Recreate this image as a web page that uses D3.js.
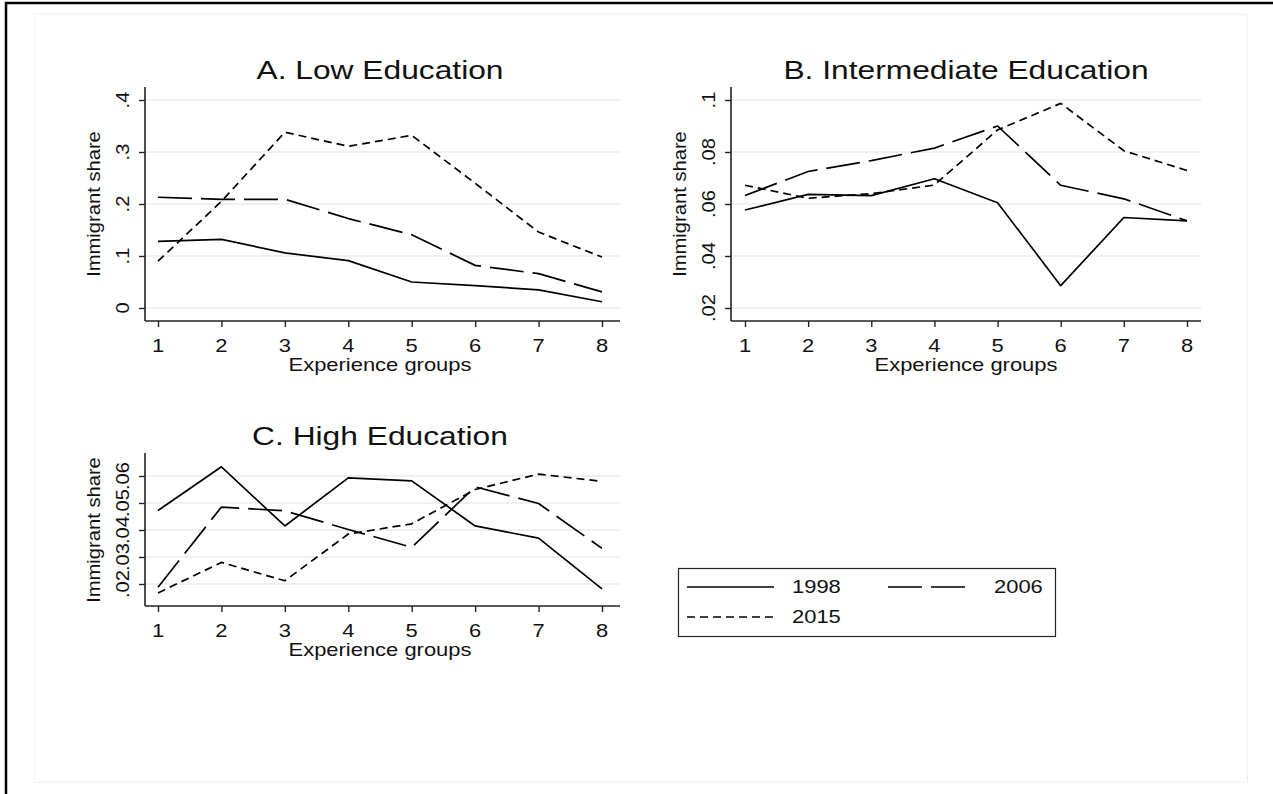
<!DOCTYPE html>
<html>
<head>
<meta charset="utf-8">
<script src="https://cdn.jsdelivr.net/npm/d3@7"></script>
<style>
  html, body { margin: 0; padding: 0; background: #fff; }
  svg { display: block; }
  text { font-family: "Liberation Sans", Arial, Helvetica, sans-serif; fill: #111; }
</style>
</head>
<body>
<svg id="chart" width="1273" height="794"></svg>
<script>
// Experience groups on the x axis
const groups = [1, 2, 3, 4, 5, 6, 7, 8];
const years = ["1998", "2006", "2015"];

// Immigrant share by experience group, low education
const low1998 = [0.128, 0.132, 0.106, 0.091, 0.050, 0.043, 0.035, 0.012];
const low2006 = [0.213, 0.209, 0.209, 0.172, 0.141, 0.082, 0.066, 0.031];
const low2015 = [0.090, 0.205, 0.338, 0.311, 0.332, 0.240, 0.146, 0.098];

// Intermediate education
const mid1998 = [0.0577, 0.0637, 0.0632, 0.0697, 0.0605, 0.0286, 0.0548, 0.0535];
const mid2006 = [0.0633, 0.0725, 0.0767, 0.0815, 0.0900, 0.0672, 0.0620, 0.0535];
const mid2015 = [0.0672, 0.0622, 0.0640, 0.0673, 0.0885, 0.0987, 0.0805, 0.0729];

// High education
const high1998 = [0.0472, 0.0634, 0.0415, 0.0593, 0.0582, 0.0415, 0.0370, 0.0182];
const high2006 = [0.0188, 0.0485, 0.0471, 0.0402, 0.0336, 0.0560, 0.0498, 0.0332];
const high2015 = [0.0167, 0.0280, 0.0212, 0.0385, 0.0423, 0.0550, 0.0607, 0.0580];

// Tick values and labels
const lowTicks = [0, 0.1, 0.2, 0.3, 0.4];
const lowTickLabels = ["0", ".1", ".2", ".3", ".4"];
const midTicks = [0.02, 0.04, 0.06, 0.08, 0.1];
const midTickLabels = [".02", ".04", ".06", ".08", ".1"];
const highTicks = [0.02, 0.03, 0.04, 0.05, 0.06];
const highTickLabels = [".02", ".03", ".04", ".05", ".06"];

const titles = ["A. Low Education", "B. Intermediate Education", "C. High Education"];
const yTitle = "Immigrant share";
const xTitle = "Experience groups";

// line style per year: solid, long dash, short dash
const dashes = { "1998": null, "2006": "34,9", "2015": "8,5" };

const svg = d3.select("#chart");

// outer frame and inner graph region
svg.append("rect").attr("x", 6).attr("y", 3).attr("width", 1400).attr("height", 900)
  .attr("fill", "#fff").attr("stroke", "#000").attr("stroke-width", 2.5);
svg.append("rect").attr("x", 34.5).attr("y", 14.5).attr("width", 1213).attr("height", 768)
  .attr("fill", "#fff").attr("stroke", "#edf1f4").attr("stroke-width", 1);

const KX = 1.22;     // horizontal glyph stretch for axis text
const KT = 1.27;     // horizontal glyph stretch for titles
const KR = 1.12;     // stretch along the reading direction of rotated text
const FS = 18;       // axis text size
const FT = 25;       // panel title size

function hText(g, x, y, s, size, k) {
  return g.append("text")
    .attr("transform", `translate(${x},${y}) scale(${k},1)`)
    .attr("text-anchor", "middle")
    .attr("font-size", size)
    .text(s);
}
function vText(g, x, y, s, size) {
  return g.append("text")
    .attr("transform", `translate(${x},${y}) rotate(-90) scale(${KR},1)`)
    .attr("text-anchor", "middle")
    .attr("dominant-baseline", "central")
    .attr("font-size", size)
    .text(s);
}

const panels = [
  { title: titles[0], series: [low1998, low2006, low2015], ticks: lowTicks, labels: lowTickLabels,
    left: 145, right: 620, top: 87, bottom: 321, x0: 158, x1: 602,
    dom: [0, 0.4], rng: [308, 100] },
  { title: titles[1], series: [mid1998, mid2006, mid2015], ticks: midTicks, labels: midTickLabels,
    left: 731, right: 1201, top: 87, bottom: 321, x0: 745, x1: 1187,
    dom: [0.02, 0.1], rng: [308, 100] },
  { title: titles[2], series: [high1998, high2006, high2015], ticks: highTicks, labels: highTickLabels,
    left: 145, right: 620, top: 453, bottom: 606, x0: 158, x1: 602,
    dom: [0.02, 0.06], rng: [584, 476] }
];

panels.forEach(p => {
  const g = svg.append("g");
  const x = d3.scaleLinear().domain([1, 8]).range([p.x0, p.x1]);
  const y = d3.scaleLinear().domain(p.dom).range(p.rng);

  // horizontal grid lines
  g.selectAll(".grid").data(p.ticks).join("line")
    .attr("x1", p.left).attr("x2", p.right)
    .attr("y1", d => y(d)).attr("y2", d => y(d))
    .attr("stroke", "#e6edf1").attr("stroke-width", 1.6);

  // y axis
  const ya = g.append("g").attr("transform", `translate(${p.left},0)`)
    .call(d3.axisLeft(y).tickValues(p.ticks).tickSize(6).tickFormat(""));
  ya.select(".domain").attr("d", `M0,${p.top}V${p.bottom}`).attr("stroke", "#222").attr("stroke-width", 1.6);
  ya.selectAll(".tick line").attr("stroke", "#222").attr("stroke-width", 1.4);
  p.ticks.forEach((t, i) => vText(g, p.left - 22, y(t), p.labels[i], FS));

  // x axis
  const xa = g.append("g").attr("transform", `translate(0,${p.bottom})`)
    .call(d3.axisBottom(x).tickValues(groups).tickSize(6).tickFormat(""));
  xa.select(".domain").attr("d", `M${p.left},0H${p.right}`).attr("stroke", "#222").attr("stroke-width", 1.6);
  xa.selectAll(".tick line").attr("stroke", "#222").attr("stroke-width", 1.4);
  groups.forEach(v => hText(g, x(v), p.bottom + 31, String(v), FS, KX));

  // axis titles
  hText(g, (p.x0 + p.x1) / 2, p.bottom + 50, xTitle, FS, KX);
  vText(g, p.left - 51, (p.rng[0] + p.rng[1]) / 2, yTitle, FS);

  // panel title
  hText(g, (p.x0 + p.x1) / 2, p.top - 8, p.title, FT, KT);

  // series lines
  const line = d3.line().x((d, i) => x(groups[i])).y(d => y(d));
  p.series.forEach((s, k) => {
    g.append("path").datum(s).attr("d", line)
      .attr("fill", "none").attr("stroke", "#000").attr("stroke-width", 1.7)
      .attr("stroke-linejoin", "round")
      .attr("stroke-dasharray", dashes[years[k]]);
  });
});

// legend
const lg = svg.append("g");
lg.append("rect").attr("x", 678.5).attr("y", 568.5).attr("width", 377).attr("height", 68)
  .attr("fill", "#fff").attr("stroke", "#222").attr("stroke-width", 1.2);
const legendItems = [
  { year: years[0], lx: 687, len: 87, ly: 587, tx: 792 },
  { year: years[1], lx: 888, len: 77, ly: 587, tx: 994 },
  { year: years[2], lx: 687, len: 87, ly: 617, tx: 792 }
];
legendItems.forEach(it => {
  lg.append("line").attr("x1", it.lx).attr("x2", it.lx + it.len).attr("y1", it.ly).attr("y2", it.ly)
    .attr("stroke", "#000").attr("stroke-width", 1.7)
    .attr("stroke-dasharray", dashes[it.year]);
  lg.append("text")
    .attr("transform", `translate(${it.tx},${it.ly + 6}) scale(${KX},1)`)
    .attr("font-size", FS).text(it.year);
});
</script>
</body>
</html>
